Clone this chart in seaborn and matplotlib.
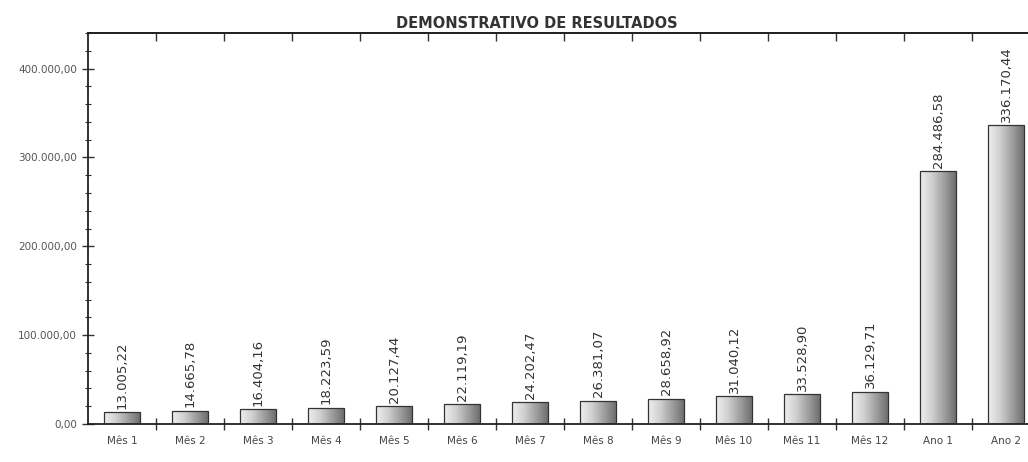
import numpy as np
import pandas as pd
import matplotlib
matplotlib.use("Agg")
import matplotlib.pyplot as plt
from matplotlib.ticker import MultipleLocator, FuncFormatter
from matplotlib.colors import LinearSegmentedColormap
import seaborn as sns

categories = ["Mês 1", "Mês 2", "Mês 3", "Mês 4", "Mês 5", "Mês 6", "Mês 7",
              "Mês 8", "Mês 9", "Mês 10", "Mês 11", "Mês 12", "Ano 1", "Ano 2"]
values = [13005.22, 14665.78, 16404.16, 18223.59, 20127.44, 22119.19, 24202.47,
          26381.07, 28658.92, 31040.12, 33528.90, 36129.71, 284486.58, 336170.44]
title = "DEMONSTRATIVO DE RESULTADOS"

def br(v):
    s = f"{v:,.2f}"
    return s.replace(",", "X").replace(".", ",").replace("X", ".")

sns.set_style("white")
plt.rcParams["font.family"] = ["DejaVu Sans"]

df = pd.DataFrame({"cat": categories, "val": values})

fig = plt.figure(figsize=(10.28, 4.62), dpi=100)
ax = fig.add_axes([88/1028, (462-424)/462, 14*68/1028, (424-33)/462])

sns.barplot(data=df, x="cat", y="val", ax=ax, color="#cccccc", width=0.52,
            edgecolor="#333333", linewidth=0.9, saturation=1)

ax.set_xlim(-0.5, 13.5)
ax.set_ylim(0, 440000)

cmap = LinearSegmentedColormap.from_list("g", ["#eeeeee", "#d0d0d0", "#a0a0a0", "#707070"])
grad = np.linspace(0, 1, 64).reshape(1, -1)
for p in list(ax.patches):
    x0, y0 = p.get_x(), p.get_y()
    w, h = p.get_width(), p.get_height()
    im = ax.imshow(grad, cmap=cmap, extent=[x0, x0 + w, y0, y0 + h],
                   aspect="auto", zorder=2, interpolation="bilinear")
    im.set_clip_path(p)
    p.set_facecolor("none")
    p.set_zorder(3)
ax.set_xlim(-0.5, 13.5)
ax.set_ylim(0, 440000)

for i, v in enumerate(values):
    ax.text(i, v + 4000, br(v), rotation=90, ha="center", va="bottom",
            fontsize=9.5, color="#333333")

# x ticks at category boundaries, labels at centres
boundaries = np.arange(0.5, 13.5, 1.0)
ax.set_xticks(boundaries)
ax.set_xticklabels([])
ax.set_xticks(np.arange(0, 14), minor=True)
ax.set_xticklabels(categories, minor=True, fontsize=7.5, color="#444444")
ax.tick_params(axis="x", which="major", direction="inout", length=8, width=1,
               color="#333333", top=False, bottom=True)
ax.tick_params(axis="x", which="minor", length=0, pad=9)
ax.set_xlabel("")
ax.set_ylabel("")

sec = ax.secondary_xaxis("top")
sec.set_xticks(boundaries)
sec.set_xticklabels([])
sec.tick_params(axis="x", direction="in", length=6, width=1, color="#333333")
sec.spines["top"].set_color("#222222")
sec.spines["top"].set_linewidth(1.3)

ax.yaxis.set_major_locator(MultipleLocator(100000))
ax.yaxis.set_minor_locator(MultipleLocator(20000))
ax.yaxis.set_major_formatter(FuncFormatter(lambda v, pos: br(v)))
ax.tick_params(axis="y", which="major", direction="inout", length=9, width=1,
               color="#333333", labelsize=7.5, labelcolor="#555555", left=True)
ax.tick_params(axis="y", which="minor", direction="inout", length=5, width=0.8,
               color="#333333", left=True)

for side in ["left", "bottom", "top"]:
    ax.spines[side].set_visible(True)
    ax.spines[side].set_color("#222222")
    ax.spines[side].set_linewidth(1.3)
ax.spines["right"].set_visible(False)

fig.text(537/1028, 1 - 24/462, title, ha="center", va="center",
         fontsize=10.5, fontweight="bold", color="#333333")

fig.savefig("out.png", dpi=100)
